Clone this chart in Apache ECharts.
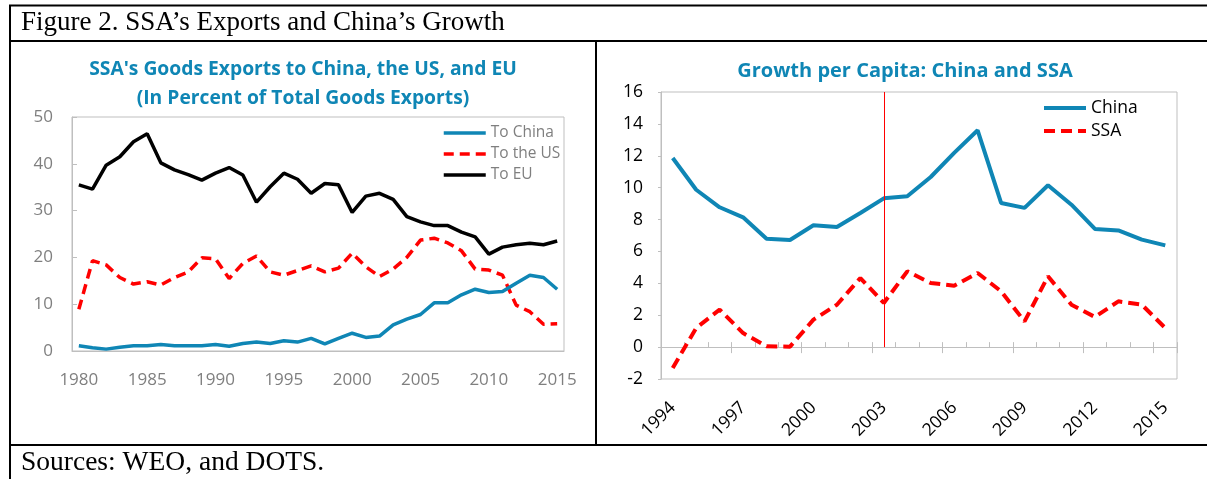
<!DOCTYPE html>
<html>
<head>
<meta charset="utf-8">
<title>Figure 2. SSA's Exports and China's Growth</title>
<script src="https://cdn.jsdelivr.net/npm/echarts@6/dist/echarts.min.js"></script>
<style>
html,body{margin:0;padding:0;background:#fff;}
#chart{width:1207px;height:479px;}
</style>
</head>
<body>
<div id="chart"></div>
<script>
// left panel: goods exports shares (percent of total)
var exportYears = ['1980','1981','1982','1983','1984','1985','1986','1987','1988','1989',
	'1990','1991','1992','1993','1994','1995','1996','1997','1998','1999',
	'2000','2001','2002','2003','2004','2005','2006','2007','2008','2009',
	'2010','2011','2012','2013','2014','2015'];
var toChina = [1.1,0.7,0.4,0.8,1.1,1.1,1.4,1.1,1.1,1.1,
	1.4,1.0,1.6,1.9,1.6,2.2,1.9,2.7,1.5,2.7,
	3.8,2.9,3.2,5.6,6.8,7.8,10.3,10.3,12.0,13.2,
	12.5,12.7,14.5,16.2,15.7,13.2];
var toUS = [8.9,19.3,18.4,15.7,14.3,14.8,14.1,15.7,16.9,19.9,
	19.7,15.5,18.7,20.3,16.9,16.2,17.2,18.2,16.9,17.7,
	20.9,18.0,15.9,17.5,20.0,23.7,24.1,23.1,21.4,17.5,
	17.3,16.2,9.8,8.4,5.7,5.8];
var toEU = [35.5,34.6,39.7,41.5,44.7,46.4,40.2,38.7,37.7,36.5,
	38.0,39.2,37.6,31.8,35.1,38.0,36.7,33.7,35.8,35.5,
	29.6,33.1,33.7,32.4,28.7,27.6,26.8,26.8,25.4,24.4,
	20.7,22.2,22.7,23.0,22.7,23.5];

// right panel: growth per capita
var growthYears = ['1994','1995','1996','1997','1998','1999','2000','2001','2002','2003',
	'2004','2005','2006','2007','2008','2009','2010','2011','2012','2013',
	'2014','2015'];
var chinaGrowth = [11.86,9.87,8.77,8.14,6.80,6.72,7.64,7.53,8.41,9.33,
	9.46,10.67,12.18,13.60,9.04,8.73,10.15,8.93,7.41,7.32,
	6.74,6.38];
var ssaGrowth = [-1.31,1.20,2.35,0.88,0.05,0.03,1.72,2.66,4.33,2.77,
	4.75,4.02,3.85,4.65,3.50,1.61,4.44,2.66,1.89,2.87,
	2.66,1.20];
var markYear = '2003';

var BLUE = '#0f86b5';
var RED = '#ff0000';
var AXIS_GRAY = '#bfbfbf';
var LABEL_GRAY = '#7f7f7f';
var SANS = '"Open Sans", "Noto Sans", sans-serif';
var SERIF = '"Liberation Serif", "DejaVu Serif", serif';

var chart = echarts.init(document.getElementById('chart'));

//边框线
function frameLine(x1, y1, x2, y2) {
	return {
		type: 'line',
		silent: true,
		shape: {x1: x1, y1: y1, x2: x2, y2: y2},
		style: {stroke: '#000', lineWidth: 2}
	};
}

function label(text, x, y, font, fill, align) {
	return {
		type: 'text',
		silent: true,
		x: x,
		y: y,
		style: {
			text: text,
			font: font,
			fill: fill,
			align: align,
			verticalAlign: 'middle'
		}
	};
}

var option = {
	animation: false,
	backgroundColor: '#fff',
	graphic: [
		frameLine(9, 5.5, 1207, 5.5),
		frameLine(9, 41, 1207, 41),
		frameLine(9, 445, 1207, 445),
		frameLine(10, 5, 10, 479),
		frameLine(596, 41, 596, 445),
		label('Figure 2. SSA\u2019s Exports and China\u2019s Growth', 21, 23, '27px ' + SERIF, '#000', 'left'),
		label('Sources: WEO, and DOTS.', 21, 463, '27.5px ' + SERIF, '#000', 'left'),
		label('SSA\'s Goods Exports to China, the US, and EU', 303, 70, 'bold 19.3px ' + SANS, BLUE, 'center'),
		label('(In Percent of Total Goods Exports)', 303, 99, 'bold 19.3px ' + SANS, BLUE, 'center'),
		label('Growth per Capita: China and SSA', 905, 71, 'bold 20px ' + SANS, BLUE, 'center')
	],
	legend: [
		{
			data: ['To China', 'To the US', 'To EU'],
			orient: 'vertical',
			left: 442,
			top: 123,
			itemWidth: 42,
			itemHeight: 14,
			itemGap: 1,
			padding: 0,
			itemStyle: {color: 'transparent', borderWidth: 0},
			lineStyle: {width: 3.5},
			textStyle: {color: LABEL_GRAY, fontSize: 15.5, fontFamily: SANS, lineHeight: 20}
		},
		{
			data: ['China', 'SSA'],
			orient: 'vertical',
			left: 1042,
			top: 97,
			itemWidth: 42,
			itemHeight: 14,
			itemGap: 1,
			padding: 0,
			itemStyle: {color: 'transparent', borderWidth: 0},
			lineStyle: {width: 4},
			textStyle: {color: '#000', fontSize: 17.5, fontFamily: SANS, lineHeight: 22}
		}
	],
	grid: [
		{left: 72, top: 117, width: 492, height: 234, show: true, borderColor: AXIS_GRAY, borderWidth: 1, outerBoundsMode: 'none'},
		{left: 661, top: 92, width: 516, height: 287, show: true, borderColor: AXIS_GRAY, borderWidth: 1, outerBoundsMode: 'none'}
	],
	xAxis: [
		{
			gridIndex: 0,
			type: 'category',
			data: exportYears,
			boundaryGap: true,
			axisLine: {lineStyle: {color: AXIS_GRAY, width: 1}},
			axisTick: {inside: true, length: 5, interval: 4, lineStyle: {color: AXIS_GRAY}},
			axisLabel: {interval: 4, color: LABEL_GRAY, fontSize: 17, fontFamily: SANS, margin: 21},
			splitLine: {show: false}
		},
		{
			// labels along the bottom of the right plot
			gridIndex: 1,
			type: 'category',
			data: growthYears,
			position: 'bottom',
			axisLine: {show: false, onZero: false},
			axisTick: {show: false},
			axisLabel: {interval: 2, rotate: 45, color: '#000', fontSize: 17.5, fontFamily: SANS, margin: 26},
			splitLine: {show: false}
		},
		{
			// zero line with small ticks
			gridIndex: 1,
			type: 'category',
			data: growthYears,
			position: 'bottom',
			axisLine: {show: true, onZero: true, onZeroAxisIndex: 1, lineStyle: {color: AXIS_GRAY, width: 1}},
			axisTick: {show: true, inside: true, length: 5, interval: 0, lineStyle: {color: AXIS_GRAY}},
			axisLabel: {show: false},
			splitLine: {show: false}
		},
		{
			// longer ticks every three years
			gridIndex: 1,
			type: 'category',
			data: growthYears,
			position: 'bottom',
			axisLine: {show: false, onZero: true, onZeroAxisIndex: 1},
			axisTick: {show: true, inside: false, length: 6, interval: 2, lineStyle: {color: AXIS_GRAY}},
			axisLabel: {show: false},
			splitLine: {show: false}
		}
	],
	yAxis: [
		{
			gridIndex: 0,
			type: 'value',
			min: 0,
			max: 50,
			interval: 10,
			axisLine: {show: true, lineStyle: {color: AXIS_GRAY, width: 1}},
			axisTick: {show: true, inside: true, length: 5, lineStyle: {color: AXIS_GRAY}},
			axisLabel: {color: LABEL_GRAY, fontSize: 17, fontFamily: SANS, margin: 19},
			splitLine: {show: false}
		},
		{
			gridIndex: 1,
			type: 'value',
			min: -2,
			max: 16,
			interval: 2,
			axisLine: {show: true, onZero: false, lineStyle: {color: AXIS_GRAY, width: 1}},
			axisTick: {show: true, inside: false, length: 3, lineStyle: {color: AXIS_GRAY}},
			axisLabel: {color: '#000', fontSize: 17.5, fontFamily: SANS, margin: 18},
			splitLine: {show: false}
		}
	],
	series: [
		{
			name: 'To the US',
			type: 'line',
			xAxisIndex: 0,
			yAxisIndex: 0,
			data: toUS,
			symbol: 'none',
			lineStyle: {color: RED, width: 3.5, type: [10, 6]},
			itemStyle: {color: RED}
		},
		{
			name: 'To China',
			type: 'line',
			xAxisIndex: 0,
			yAxisIndex: 0,
			data: toChina,
			symbol: 'none',
			lineStyle: {color: BLUE, width: 3.5},
			itemStyle: {color: BLUE}
		},
		{
			name: 'To EU',
			type: 'line',
			xAxisIndex: 0,
			yAxisIndex: 0,
			data: toEU,
			symbol: 'none',
			lineStyle: {color: '#000', width: 3.5},
			itemStyle: {color: '#000'}
		},
		{
			name: 'China',
			type: 'line',
			xAxisIndex: 1,
			yAxisIndex: 1,
			data: chinaGrowth,
			symbol: 'none',
			lineStyle: {color: BLUE, width: 4},
			itemStyle: {color: BLUE}
		},
		{
			name: 'SSA',
			type: 'line',
			xAxisIndex: 1,
			yAxisIndex: 1,
			data: ssaGrowth,
			symbol: 'none',
			lineStyle: {color: RED, width: 4, type: [11, 6]},
			itemStyle: {color: RED},
			markLine: {
				silent: true,
				symbol: 'none',
				label: {show: false},
				lineStyle: {color: RED, width: 1, type: 'solid'},
				data: [[{coord: [markYear, 16]}, {coord: [markYear, 0]}]]
			}
		}
	]
};

chart.setOption(option);
</script>
</body>
</html>
